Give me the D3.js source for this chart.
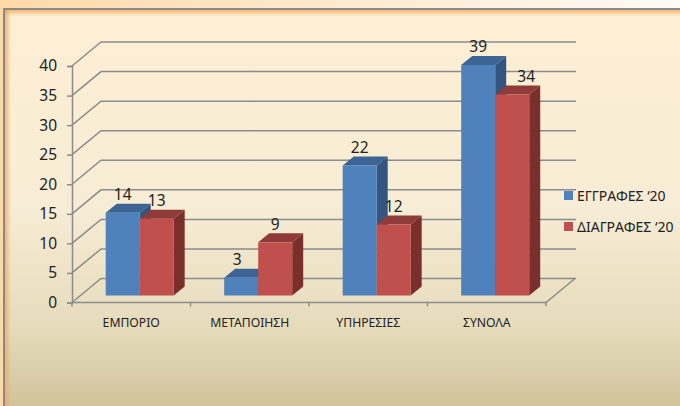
<!DOCTYPE html>
<html>
<head>
<meta charset="utf-8">
<script src="https://cdn.jsdelivr.net/npm/d3@7"></script>
<style>
  html, body { margin: 0; padding: 0; background: #fff; }
  svg { display: block; }
  text { font-family: "Noto Sans", sans-serif; fill: #222; }
</style>
</head>
<body>
<div id="chart"></div>
<script>
const categories = ['ΕΜΠΟΡΙΟ', 'ΜΕΤΑΠΟΙΗΣΗ', 'ΥΠΗΡΕΣΙΕΣ', 'ΣΥΝΟΛΑ'];
const seriesNames = ['ΕΓΓΡΑΦΕΣ ‘20', 'ΔΙΑΓΡΑΦΕΣ ‘20'];
const eggrafes = [14, 3, 22, 39];
const diagrafes = [13, 9, 12, 34];
const yTicks = [0, 5, 10, 15, 20, 25, 30, 35, 40];

const width = 680, height = 406;
const depthX = 29, depthY = 24;      // floor depth of the 3d box
const barDepthX = 11, barDepthY = 9;

const svg = d3.select('#chart').append('svg')
  .attr('width', width)
  .attr('height', height);

const defs = svg.append('defs');

function gradient(id, horizontal, stops) {
  const g = defs.append('linearGradient').attr('id', id)
    .attr('x1', 0).attr('y1', 0)
    .attr('x2', horizontal ? 1 : 0).attr('y2', horizontal ? 0 : 1);
  stops.forEach(s => g.append('stop').attr('offset', s[0]).attr('stop-color', s[1]).attr('stop-opacity', s[2] == null ? 1 : s[2]));
  return `url(#${id})`;
}

// Panel background
const outerFill = gradient('outer', true, [[0, '#fed9a8'], [1, '#fefaf4']]);
const panelFill = gradient('panel', false, [[0, '#fdefd4'], [0.5, '#f7ecd5'], [0.8, '#e6dcbc'], [1, '#d0c49c']]);
const glowTop = gradient('glowTop', false, [[0, '#f2a860', 0.95], [1, '#f2a860', 0]]);
const glowLeft = gradient('glowLeft', true, [[0, '#f2a860', 0.95], [1, '#f2a860', 0]]);

svg.append('rect').attr('width', width).attr('height', height).attr('fill', outerFill);
svg.append('rect').attr('x', 4).attr('y', 9).attr('width', width - 4).attr('height', height - 9).attr('fill', panelFill);
svg.append('rect').attr('x', 4).attr('y', 9).attr('width', width - 4).attr('height', 7).attr('fill', glowTop);
svg.append('rect').attr('x', 4).attr('y', 9).attr('width', 7).attr('height', height - 9).attr('fill', glowLeft);
svg.append('path').attr('d', `M${width},9H4V${height}`).attr('fill', 'none').attr('stroke', '#8a8a86').attr('stroke-width', 2);

// Scales
const x = d3.scaleBand().domain(categories).range([72, 546]);
const y = d3.scaleLinear().domain([0, 40]).range([302.5, 66]);
const barBottom = 295.5;   // bars stand a little behind the front edge of the floor
const barHeight = d3.scaleLinear().domain([0, 40]).range([0, 236.5]);
const inner = d3.scaleBand().domain(seriesNames).range([33.7, 101.7]);

// Back wall gridlines and their diagonals
const grid = svg.append('g').attr('fill', 'none').attr('stroke', '#8c8c8c').attr('stroke-width', 1.5);
grid.selectAll('path').data(yTicks).join('path')
  .attr('d', d => `M72,${y(d)}L${72 + depthX},${y(d) - depthY}H576`);

// Floor right edge and front edge
grid.append('path').attr('d', `M72,${y(0)}H546L575,${y(0) - depthY}`);

// Value axis
const axis = svg.append('g').attr('transform', 'translate(72,0)')
  .call(d3.axisLeft(y).tickValues(yTicks).tickSize(5).tickPadding(10));
axis.select('.domain').attr('stroke', '#8c8c8c').attr('stroke-width', 1.5);
axis.selectAll('.tick line').attr('stroke', '#8c8c8c').attr('stroke-width', 1.5);
axis.selectAll('text').style('font-size', '15.5px').style('font-family', '"Noto Sans", sans-serif');

// Category axis
const catAxis = svg.append('g').attr('transform', `translate(0,${y(0)})`)
  .call(d3.axisBottom(x).tickSize(4).tickPadding(12));
catAxis.select('.domain').remove();
catAxis.selectAll('.tick line').remove();
catAxis.selectAll('text').style('font-size', '12.2px').style('font-family', '"Noto Sans", sans-serif');
svg.append('g').selectAll('line').data(d3.range(categories.length + 1)).join('line')
  .attr('x1', i => 72 + i * x.step()).attr('x2', i => 72 + i * x.step())
  .attr('y1', y(0)).attr('y2', y(0) + 4)
  .attr('stroke', '#8c8c8c').attr('stroke-width', 1.5);

// 3d bars
const palette = [
  { front: '#4f81bd', top: '#3c6494', side: '#34557f' },
  { front: '#c0504d', top: '#8f3b39', side: '#7a2f2d' }
];
const series = [eggrafes, diagrafes];

function drawBar(g, catIndex, s) {
  const v = series[s][catIndex];
  const bx = x(categories[catIndex]) + inner(seriesNames[s]);
  const bw = inner.bandwidth();
  const top = barBottom - barHeight(v);
  const c = palette[s];
  g.append('path').attr('fill', c.side)
    .attr('d', `M${bx + bw},${top}l${barDepthX},${-barDepthY}V${barBottom - barDepthY}L${bx + bw},${barBottom}Z`);
  g.append('path').attr('fill', c.top)
    .attr('d', `M${bx},${top}l${barDepthX},${-barDepthY}h${bw}l${-barDepthX},${barDepthY}Z`);
  g.append('rect').attr('x', bx).attr('y', top).attr('width', bw).attr('height', barHeight(v)).attr('fill', c.front);
}

const bars = svg.append('g');
categories.forEach((c, i) => { drawBar(bars, i, 0); drawBar(bars, i, 1); });

// Data labels. Two of them were dragged sideways by hand in the original.
const labelNudge = { '0-1': -4, '1-3': 14 };
const labels = svg.append('g').style('font-size', '15.5px').attr('text-anchor', 'middle');
series.forEach((vals, s) => {
  labels.selectAll(null).data(vals).join('text')
    .attr('x', (d, i) => x(categories[i]) + inner(seriesNames[s]) + inner.bandwidth() / 2 + (labelNudge[`${s}-${i}`] || 0))
    .attr('y', d => barBottom - barHeight(d) - 12.5)
    .text(d => d);
});

// Legend
const legend = svg.append('g').selectAll('g').data(seriesNames).join('g')
  .attr('transform', (d, i) => `translate(564,${191 + i * 31})`);
legend.append('rect').attr('width', 9).attr('height', 9).attr('fill', (d, i) => palette[i].front);
legend.append('text').attr('x', 13).attr('y', 9.5).style('font-size', '14px').text(d => d);
</script>
</body>
</html>
